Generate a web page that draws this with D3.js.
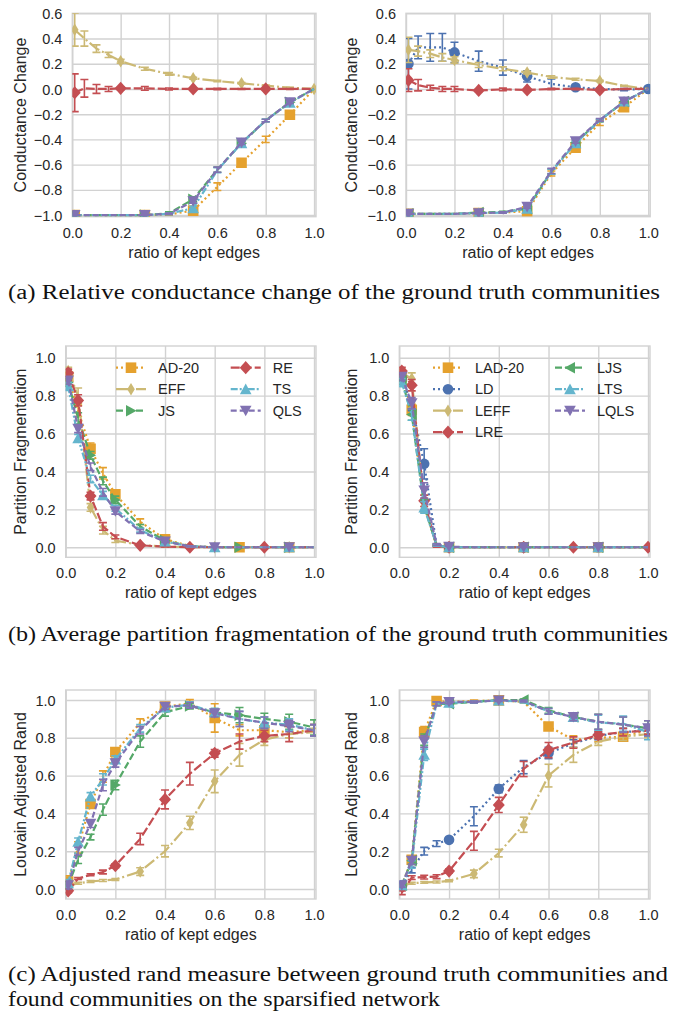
<!DOCTYPE html>
<html><head><meta charset="utf-8">
<script src="https://cdn.jsdelivr.net/npm/d3@7"></script>
<style>body{margin:0;background:#fff}svg{display:block}</style>
</head><body>
<script>
// ---------- shared x samples ----------
const X = [0.01, 0.05, 0.1, 0.15, 0.2, 0.3, 0.4, 0.5, 0.6, 0.7, 0.8, 0.9, 1.0];
const xTicks = [0, 0.2, 0.4, 0.6, 0.8, 1.0];
const yTicksA = [-1.0, -0.8, -0.6, -0.4, -0.2, 0.0, 0.2, 0.4, 0.6];
const yTicksBC = [0.0, 0.2, 0.4, 0.6, 0.8, 1.0];
const legendLeft = [["AD-20", "EFF", "JS"], ["RE", "TS", "QLS"]];
const legendRight = [["LAD-20", "LD", "LEFF", "LRE"], ["LJS", "LTS", "LQLS"]];
const captions = ["(a) Relative conductance change of the ground truth communities",
  "(b) Average partition fragmentation of the ground truth communities",
  "(c) Adjusted rand measure between ground truth communities and",
  "found communities on the sparsified network"];

// ---------- (a) left: conductance change ----------
const aL_AD20 = [-1, -1, -1, -1, -1, -1, -0.995, -0.965, -0.775, -0.585, -0.40, -0.205, 0];
const aL_AD20_err = [0, 0, 0, 0, 0, 0, 0.005, 0.01, 0.03, 0.02, 0.025, 0.01, 0];
const aL_AD20_mk = [0, 5, 7, 9, 11];
const aL_EFF = [0.47, 0.40, 0.32, 0.27, 0.22, 0.16, 0.12, 0.085, 0.063, 0.045, 0.027, 0.01, 0];
const aL_EFF_err = [0.13, 0.06, 0.03, 0.02, 0.015, 0.012, 0.01, 0.008, 0.006, 0.005, 0.004, 0.003, 0];
const aL_EFF_mk = [0, 4, 7, 9, 12];
const aL_JS = [-1, -1, -1, -1, -1, -1, -0.985, -0.875, -0.64, -0.43, -0.25, -0.105, 0];
const aL_JS_err = [0, 0, 0, 0, 0, 0, 0.01, 0.02, 0.02, 0.015, 0.01, 0.01, 0];
const aL_JS_mk = [0, 5, 7, 9, 11];
const aL_RE = [-0.03, 0.005, 0.0, 0.0, 0.005, 0.005, 0.0, 0.0, 0.0, 0.0, 0.0, 0.0, 0.0];
const aL_RE_err = [0.15, 0.07, 0.035, 0.02, 0.01, 0.015, 0.008, 0.005, 0.005, 0.004, 0.003, 0.003, 0];
const aL_RE_mk = [0, 4, 7, 10];
const aL_TS = [-1, -1, -1, -1, -1, -1, -0.99, -0.945, -0.645, -0.43, -0.25, -0.11, 0];
const aL_TS_err = [0, 0, 0, 0, 0, 0, 0.005, 0.015, 0.02, 0.015, 0.01, 0.01, 0];
const aL_TS_mk = [0, 5, 7, 9, 11];
const aL_QLS = [-1, -1, -1, -1, -1, -1, -0.99, -0.89, -0.64, -0.425, -0.25, -0.105, 0];
const aL_QLS_err = [0, 0, 0, 0, 0, 0, 0.005, 0.015, 0.02, 0.015, 0.01, 0.01, 0];
const aL_QLS_mk = [0, 5, 7, 9, 11];

// ---------- (a) right ----------
const aR_LAD20 = [-0.99, -0.99, -0.99, -0.99, -0.99, -0.985, -0.98, -0.97, -0.67, -0.465, -0.27, -0.145, 0];
const aR_LAD20_err = [0, 0, 0, 0, 0, 0.005, 0.005, 0.01, 0.02, 0.02, 0.02, 0.01, 0];
const aR_LAD20_mk = [0, 5, 7, 9, 11];
const aR_LD = [0.20, 0.33, 0.33, 0.33, 0.29, 0.22, 0.17, 0.10, 0.04, 0.013, 0.0, -0.005, 0.0];
const aR_LD_err = [0.2, 0.09, 0.11, 0.11, 0.08, 0.08, 0.06, 0.045, 0.04, 0.015, 0.008, 0.008, 0];
const aR_LD_mk = [0, 4, 7, 9, 12];
const aR_LEFF = [0.31, 0.30, 0.28, 0.25, 0.23, 0.19, 0.16, 0.13, 0.095, 0.077, 0.063, 0.025, 0];
const aR_LEFF_err = [0.1, 0.04, 0.03, 0.03, 0.025, 0.02, 0.015, 0.01, 0.01, 0.008, 0.006, 0.004, 0];
const aR_LEFF_mk = [0, 4, 7, 10];
const aR_LRE = [0.07, 0.03, 0.01, 0.0, 0.0, -0.012, -0.003, -0.008, 0.0, 0.0, -0.008, 0.0, 0.0];
const aR_LRE_err = [0.09, 0.045, 0.02, 0.02, 0.02, 0.01, 0.01, 0.008, 0.005, 0.005, 0.005, 0.003, 0];
const aR_LRE_mk = [0, 5, 7, 10];
const aR_LJS = [-0.99, -0.99, -0.99, -0.99, -0.99, -0.98, -0.975, -0.95, -0.655, -0.425, -0.25, -0.10, 0];
const aR_LJS_err = [0, 0, 0, 0, 0, 0.005, 0.005, 0.01, 0.02, 0.015, 0.01, 0.01, 0];
const aR_LJS_mk = [0, 5, 7, 9, 11];
const aR_LTS = [-0.99, -0.99, -0.99, -0.99, -0.99, -0.985, -0.98, -0.95, -0.655, -0.43, -0.25, -0.10, 0];
const aR_LTS_err = [0, 0, 0, 0, 0, 0.005, 0.005, 0.01, 0.02, 0.015, 0.01, 0.01, 0];
const aR_LTS_mk = [0, 5, 7, 9, 11];
const aR_LQLS = [-0.99, -0.99, -0.99, -0.99, -0.99, -0.985, -0.98, -0.935, -0.65, -0.415, -0.245, -0.10, 0];
const aR_LQLS_err = [0, 0, 0, 0, 0, 0.005, 0.005, 0.01, 0.02, 0.015, 0.01, 0.01, 0];
const aR_LQLS_mk = [0, 5, 7, 9, 11];

// ---------- (b) left: partition fragmentation ----------
const bL_AD20 = [0.90, 0.72, 0.52, 0.39, 0.28, 0.135, 0.042, 0.007, 0, 0, 0, 0, 0];
const bL_AD20_err = [0.02, 0.03, 0.03, 0.03, 0.02, 0.015, 0.01, 0.003, 0, 0, 0, 0, 0];
const bL_AD20_mk = [0, 2, 4, 6, 9, 11];
const bL_EFF = [0.93, 0.80, 0.21, 0.09, 0.035, 0.012, 0.004, 0, 0, 0, 0, 0, 0];
const bL_EFF_err = [0.02, 0.04, 0.02, 0.02, 0.01, 0.005, 0.002, 0, 0, 0, 0, 0, 0];
const bL_EFF_mk = [0, 2, 5, 8, 11];
const bL_JS = [0.87, 0.68, 0.485, 0.35, 0.25, 0.11, 0.035, 0.005, 0, 0, 0, 0, 0];
const bL_JS_err = [0.02, 0.03, 0.02, 0.02, 0.02, 0.01, 0.005, 0.002, 0, 0, 0, 0, 0];
const bL_JS_mk = [0, 2, 4, 6, 9, 11];
const bL_RE = [0.92, 0.775, 0.27, 0.11, 0.055, 0.01, 0.003, 0, 0, 0, 0, 0, 0];
const bL_RE_err = [0.02, 0.03, 0.02, 0.02, 0.01, 0.005, 0.002, 0, 0, 0, 0, 0, 0];
const bL_RE_mk = [0, 1, 2, 5, 7, 10];
const bL_TS = [0.85, 0.575, 0.36, 0.275, 0.205, 0.09, 0.03, 0.005, 0, 0, 0, 0, 0];
const bL_TS_err = [0.02, 0.02, 0.02, 0.02, 0.015, 0.01, 0.005, 0.002, 0, 0, 0, 0, 0];
const bL_TS_mk = [0, 1, 3, 6, 8, 11];
const bL_QLS = [0.88, 0.625, 0.425, 0.29, 0.19, 0.083, 0.03, 0.005, 0, 0, 0, 0, 0];
const bL_QLS_err = [0.02, 0.02, 0.02, 0.02, 0.015, 0.01, 0.005, 0.002, 0, 0, 0, 0, 0];
const bL_QLS_mk = [0, 1, 4, 6, 8, 11];

// ---------- (b) right ----------
const bR_LAD20 = [0.90, 0.725, 0.22, 0.01, 0, 0, 0, 0, 0, 0, 0, 0, 0];
const bR_LAD20_err = [0.02, 0.03, 0.03, 0.005, 0, 0, 0, 0, 0, 0, 0, 0, 0];
const bR_LAD20_mk = [0, 1, 4, 7, 10];
const bR_LD = [0.90, 0.75, 0.44, 0.01, 0, 0, 0, 0, 0, 0, 0, 0, 0];
const bR_LD_err = [0.02, 0.03, 0.08, 0.005, 0, 0, 0, 0, 0, 0, 0, 0, 0];
const bR_LD_mk = [0, 2, 4, 7, 10];
const bR_LEFF = [0.92, 0.89, 0.215, 0.01, 0, 0, 0, 0, 0, 0, 0, 0, 0];
const bR_LEFF_err = [0.02, 0.03, 0.03, 0.005, 0, 0, 0, 0, 0, 0, 0, 0, 0];
const bR_LEFF_mk = [0, 1, 2, 4, 7, 10];
const bR_LRE = [0.93, 0.855, 0.245, 0.005, 0, 0, 0, 0, 0, 0, 0, 0, 0];
const bR_LRE_err = [0.02, 0.03, 0.03, 0.005, 0, 0, 0, 0, 0, 0, 0, 0, 0];
const bR_LRE_mk = [0, 1, 2, 4, 7, 9, 12];
const bR_LJS = [0.88, 0.70, 0.22, 0.01, 0, 0, 0, 0, 0, 0, 0, 0, 0];
const bR_LJS_err = [0.02, 0.03, 0.03, 0.005, 0, 0, 0, 0, 0, 0, 0, 0, 0];
const bR_LJS_mk = [0, 1, 4, 7, 10];
const bR_LTS = [0.87, 0.70, 0.21, 0.01, 0, 0, 0, 0, 0, 0, 0, 0, 0];
const bR_LTS_err = [0.02, 0.03, 0.03, 0.005, 0, 0, 0, 0, 0, 0, 0, 0, 0];
const bR_LTS_mk = [0, 2, 4, 7, 10];
const bR_LQLS = [0.90, 0.76, 0.30, 0.015, 0.003, 0, 0, 0, 0, 0, 0, 0, 0];
const bR_LQLS_err = [0.02, 0.03, 0.04, 0.005, 0, 0, 0, 0, 0, 0, 0, 0, 0];
const bR_LQLS_mk = [0, 1, 2, 4, 7, 10];

// ---------- (c) left: Louvain adjusted rand ----------
const cL_AD20 = [0.04, 0.22, 0.45, 0.595, 0.725, 0.88, 0.965, 0.982, 0.905, 0.84, 0.84, 0.83, 0.84];
const cL_AD20_err = [0.03, 0.03, 0.02, 0.03, 0.02, 0.02, 0.015, 0.02, 0.075, 0.03, 0.03, 0.03, 0.03];
const cL_AD20_mk = [0, 2, 4, 6, 8, 10];
const cL_EFF = [0.015, 0.03, 0.04, 0.045, 0.05, 0.092, 0.20, 0.35, 0.57, 0.71, 0.79, 0.82, 0.83];
const cL_EFF_err = [0.01, 0.005, 0.005, 0.005, 0.005, 0.02, 0.03, 0.035, 0.06, 0.06, 0.03, 0.02, 0.02];
const cL_EFF_mk = [0, 5, 7, 8, 10];
const cL_JS = [0.02, 0.155, 0.275, 0.42, 0.55, 0.78, 0.935, 0.968, 0.935, 0.92, 0.90, 0.885, 0.855];
const cL_JS_err = [0.02, 0.02, 0.015, 0.03, 0.025, 0.03, 0.02, 0.015, 0.02, 0.04, 0.03, 0.04, 0.04];
const cL_JS_mk = [0, 4, 7, 9, 11];
const cL_RE = [-0.01, 0.055, 0.075, 0.09, 0.123, 0.265, 0.474, 0.61, 0.718, 0.78, 0.81, 0.82, 0.84];
const cL_RE_err = [0.01, 0.005, 0.005, 0.01, 0.01, 0.03, 0.05, 0.06, 0.02, 0.04, 0.03, 0.04, 0.03];
const cL_RE_mk = [0, 4, 6, 8, 10];
const cL_TS = [0.03, 0.25, 0.49, 0.58, 0.685, 0.85, 0.96, 0.975, 0.935, 0.90, 0.88, 0.87, 0.84];
const cL_TS_err = [0.02, 0.02, 0.02, 0.03, 0.02, 0.02, 0.015, 0.015, 0.02, 0.04, 0.03, 0.03, 0.03];
const cL_TS_mk = [0, 1, 2, 4, 6, 8, 10];
const cL_QLS = [0.02, 0.20, 0.345, 0.55, 0.665, 0.84, 0.965, 0.972, 0.93, 0.90, 0.88, 0.862, 0.84];
const cL_QLS_err = [0.02, 0.02, 0.02, 0.03, 0.02, 0.02, 0.015, 0.015, 0.02, 0.04, 0.03, 0.03, 0.03];
const cL_QLS_mk = [0, 2, 4, 6, 8, 11];

// ---------- (c) right ----------
const cR_LAD20 = [0.02, 0.155, 0.83, 0.995, 0.99, 0.995, 0.998, 0.99, 0.86, 0.79, 0.80, 0.806, 0.84];
const cR_LAD20_err = [0.01, 0.02, 0.03, 0.01, 0.01, 0.005, 0.005, 0.005, 0.02, 0.02, 0.02, 0.02, 0.02];
const cR_LAD20_mk = [1, 2, 3, 6, 8, 11];
const cR_LD = [0.02, 0.10, 0.20, 0.24, 0.26, 0.385, 0.53, 0.645, 0.72, 0.77, 0.81, 0.83, 0.84];
const cR_LD_err = [0.01, 0.015, 0.02, 0.015, 0.01, 0.05, 0.02, 0.035, 0.03, 0.02, 0.02, 0.02, 0.02];
const cR_LD_mk = [0, 4, 6, 8];
const cR_LEFF = [0.02, 0.03, 0.035, 0.037, 0.043, 0.08, 0.19, 0.34, 0.60, 0.71, 0.78, 0.806, 0.82];
const cR_LEFF_err = [0.005, 0.005, 0.005, 0.005, 0.005, 0.02, 0.02, 0.04, 0.06, 0.04, 0.02, 0.02, 0.02];
const cR_LEFF_mk = [5, 7, 8];
const cR_LRE = [-0.02, 0.06, 0.063, 0.065, 0.095, 0.255, 0.445, 0.635, 0.735, 0.775, 0.815, 0.83, 0.838];
const cR_LRE_err = [0.01, 0.01, 0.01, 0.01, 0.01, 0.05, 0.04, 0.04, 0.04, 0.03, 0.02, 0.02, 0.02];
const cR_LRE_mk = [4, 6, 8, 10];
const cR_LJS = [0.02, 0.15, 0.79, 0.98, 0.98, 0.99, 1.0, 1.0, 0.945, 0.91, 0.885, 0.87, 0.85];
const cR_LJS_err = [0.01, 0.02, 0.03, 0.01, 0.01, 0.005, 0.005, 0.005, 0.015, 0.02, 0.04, 0.04, 0.04];
const cR_LJS_mk = [0, 1, 4, 7, 9];
const cR_LTS = [0.02, 0.13, 0.71, 0.98, 0.985, 0.99, 0.998, 0.99, 0.94, 0.91, 0.88, 0.875, 0.83];
const cR_LTS_err = [0.01, 0.02, 0.03, 0.01, 0.01, 0.005, 0.005, 0.005, 0.015, 0.02, 0.04, 0.04, 0.04];
const cR_LTS_mk = [0, 2, 4, 6, 9];
const cR_LQLS = [0.02, 0.15, 0.78, 0.98, 0.99, 0.99, 0.998, 0.995, 0.94, 0.91, 0.885, 0.87, 0.85];
const cR_LQLS_err = [0.01, 0.02, 0.03, 0.01, 0.01, 0.005, 0.005, 0.005, 0.015, 0.02, 0.04, 0.04, 0.04];
const cR_LQLS_mk = [0, 1, 2, 4, 6, 9, 12];

// ---------- styles ----------
const STY = {
  "AD-20": {c: "#E5A12E", dash: "2,3", m: "s"},
  "LAD-20": {c: "#E5A12E", dash: "2,3", m: "s"},
  "LD": {c: "#4C72B0", dash: "2,3", m: "o"},
  "EFF": {c: "#CCB974", dash: "12,3,2,3", m: "d"},
  "LEFF": {c: "#CCB974", dash: "12,3,2,3", m: "d"},
  "RE": {c: "#C44E52", dash: "9,3", m: "D"},
  "LRE": {c: "#C44E52", dash: "9,3", m: "D"},
  "JS": {c: "#55A868", dash: "7,3", m: ">"},
  "LJS": {c: "#55A868", dash: "7,3", m: "<"},
  "TS": {c: "#64B5CD", dash: "7,2,2,2,2,2", m: "^"},
  "LTS": {c: "#64B5CD", dash: "7,2,2,2,2,2", m: "^"},
  "QLS": {c: "#8172B2", dash: "6,3", m: "v"},
  "LQLS": {c: "#8172B2", dash: "6,3", m: "v"}
};
function markerPath(m) {
  switch (m) {
    case "s": return "M-5.3,-5.3H5.3V5.3H-5.3Z";
    case "o": return d3.symbol(d3.symbolCircle, Math.PI * 5.3 * 5.3)();
    case "D": return "M0,-6.6L6,0L0,6.6L-6,0Z";
    case "d": return "M0,-6.2L3.8,0L0,6.2L-3.8,0Z";
    case "^": return "M0,-5.6L5.8,5L-5.8,5Z";
    case "v": return "M0,5.6L5.8,-5L-5.8,-5Z";
    case ">": return "M5.6,0L-5,-5.8L-5,5.8Z";
    case "<": return "M-5.6,0L5,-5.8L5,5.8Z";
  }
}

const panels = [
  {x0: 72.3, x1: 316, y0: 13.3, y1: 216.7, yd: [-1.013, 0.6], yt: yTicksA, yl: "Conductance Change", lx: 25.5,
   s: [["AD-20", aL_AD20, aL_AD20_err, aL_AD20_mk], ["EFF", aL_EFF, aL_EFF_err, aL_EFF_mk], ["JS", aL_JS, aL_JS_err, aL_JS_mk],
       ["RE", aL_RE, aL_RE_err, aL_RE_mk], ["TS", aL_TS, aL_TS_err, aL_TS_mk], ["QLS", aL_QLS, aL_QLS_err, aL_QLS_mk]]},
  {x0: 406, x1: 650.2, y0: 13.3, y1: 216.7, yd: [-1.013, 0.6], yt: yTicksA, yl: "Conductance Change", lx: 357,
   s: [["LAD-20", aR_LAD20, aR_LAD20_err, aR_LAD20_mk], ["LD", aR_LD, aR_LD_err, aR_LD_mk], ["LEFF", aR_LEFF, aR_LEFF_err, aR_LEFF_mk],
       ["LRE", aR_LRE, aR_LRE_err, aR_LRE_mk], ["LJS", aR_LJS, aR_LJS_err, aR_LJS_mk], ["LTS", aR_LTS, aR_LTS_err, aR_LTS_mk], ["LQLS", aR_LQLS, aR_LQLS_err, aR_LQLS_mk]]},
  {x0: 65.7, x1: 316, y0: 346, y1: 557.3, yd: [-0.053, 1.062], yt: yTicksBC, yl: "Partition Fragmentation", lx: 25.5, leg: legendLeft, legX: [131, 245.7],
   s: [["AD-20", bL_AD20, bL_AD20_err, bL_AD20_mk], ["EFF", bL_EFF, bL_EFF_err, bL_EFF_mk], ["JS", bL_JS, bL_JS_err, bL_JS_mk],
       ["RE", bL_RE, bL_RE_err, bL_RE_mk], ["TS", bL_TS, bL_TS_err, bL_TS_mk], ["QLS", bL_QLS, bL_QLS_err, bL_QLS_mk]]},
  {x0: 399.3, x1: 650, y0: 346, y1: 557.3, yd: [-0.053, 1.062], yt: yTicksBC, yl: "Partition Fragmentation", lx: 357, leg: legendRight, legX: [448, 570],
   s: [["LAD-20", bR_LAD20, bR_LAD20_err, bR_LAD20_mk], ["LD", bR_LD, bR_LD_err, bR_LD_mk], ["LEFF", bR_LEFF, bR_LEFF_err, bR_LEFF_mk],
       ["LRE", bR_LRE, bR_LRE_err, bR_LRE_mk], ["LJS", bR_LJS, bR_LJS_err, bR_LJS_mk], ["LTS", bR_LTS, bR_LTS_err, bR_LTS_mk], ["LQLS", bR_LQLS, bR_LQLS_err, bR_LQLS_mk]]},
  {x0: 65.7, x1: 316, y0: 690, y1: 899, yd: [-0.053, 1.053], yt: yTicksBC, yl: "Louvain Adjusted Rand", lx: 25.5,
   s: [["AD-20", cL_AD20, cL_AD20_err, cL_AD20_mk], ["EFF", cL_EFF, cL_EFF_err, cL_EFF_mk], ["JS", cL_JS, cL_JS_err, cL_JS_mk],
       ["RE", cL_RE, cL_RE_err, cL_RE_mk], ["TS", cL_TS, cL_TS_err, cL_TS_mk], ["QLS", cL_QLS, cL_QLS_err, cL_QLS_mk]]},
  {x0: 399.3, x1: 650, y0: 690, y1: 899, yd: [-0.053, 1.053], yt: yTicksBC, yl: "Louvain Adjusted Rand", lx: 357,
   s: [["LAD-20", cR_LAD20, cR_LAD20_err, cR_LAD20_mk], ["LD", cR_LD, cR_LD_err, cR_LD_mk], ["LEFF", cR_LEFF, cR_LEFF_err, cR_LEFF_mk],
       ["LRE", cR_LRE, cR_LRE_err, cR_LRE_mk], ["LJS", cR_LJS, cR_LJS_err, cR_LJS_mk], ["LTS", cR_LTS, cR_LTS_err, cR_LTS_mk], ["LQLS", cR_LQLS, cR_LQLS_err, cR_LQLS_mk]]}
];

const W = 677, H = 1015;
const svg = d3.select("body").append("svg").attr("width", W).attr("height", H)
  .style("font-family", "'Liberation Sans', Arial, sans-serif");
svg.append("rect").attr("width", W).attr("height", H).attr("fill", "#fff");
const TXT = "#262626", GRID = "#d2d2d2";
const fmt = v => (v < 0 ? "\u2212" : "") + Math.abs(v).toFixed(1);

panels.forEach((p, pi) => {
  const x = d3.scaleLinear().domain([0, 1.008]).range([p.x0, p.x1]);
  const y = d3.scaleLinear().domain(p.yd).range([p.y1, p.y0]);
  const g = svg.append("g");
  const cid = "clip" + pi;
  svg.append("clipPath").attr("id", cid).append("rect")
    .attr("x", p.x0).attr("y", p.y0).attr("width", p.x1 - p.x0).attr("height", p.y1 - p.y0);

  // grid
  const xa = d3.axisBottom(x).tickValues(xTicks).tickSize(-(p.y1 - p.y0)).tickFormat(d3.format(".1f")).tickPadding(10);
  const gx = g.append("g").attr("transform", `translate(0,${p.y1})`).call(xa);
  gx.select(".domain").remove();
  gx.selectAll("line").attr("stroke", GRID).attr("stroke-width", 1.4);
  gx.selectAll("text").attr("fill", TXT).style("font-size", "14.5px").attr("y", 21).attr("dy", 0);
  const ya = d3.axisLeft(y).tickValues(p.yt).tickSize(-(p.x1 - p.x0)).tickFormat(fmt).tickPadding(10);
  const gy = g.append("g").attr("transform", `translate(${p.x0},0)`).call(ya);
  gy.select(".domain").remove();
  gy.selectAll("line").attr("stroke", GRID).attr("stroke-width", 1.4);
  gy.selectAll("text").attr("fill", TXT).style("font-size", "14.5px").attr("dy", "0.35em");
  g.append("rect").attr("x", p.x0).attr("y", p.y0).attr("width", p.x1 - p.x0).attr("height", p.y1 - p.y0)
    .attr("fill", "none").attr("stroke", GRID).attr("stroke-width", 1.4);

  // labels
  g.append("text").attr("x", (p.x0 + p.x1) / 2).attr("y", p.y1 + 41)
    .attr("text-anchor", "middle").attr("fill", TXT).style("font-size", "16px").text("ratio of kept edges");
  g.append("text").attr("transform", `translate(${p.lx},${(p.y0 + p.y1) / 2}) rotate(-90)`)
    .attr("text-anchor", "middle").attr("fill", TXT).style("font-size", "16px").text(p.yl);

  // series
  const plot = g.append("g").attr("clip-path", `url(#${cid})`);
  const line = d3.line().x(d => x(d[0])).y(d => y(d[1]));
  p.s.forEach(([name, vals, errs, mks]) => {
    const st = STY[name];
    const sg = plot.append("g");
    const pts = X.map((xv, i) => [xv, vals[i], errs[i]]);
    sg.append("path").datum(pts).attr("d", line).attr("fill", "none").attr("stroke", st.c)
      .attr("stroke-width", 2.2).attr("stroke-dasharray", st.dash);
    const eb = sg.append("g").attr("stroke", st.c).attr("stroke-width", 1.6);
    pts.filter(d => d[2] > 0).forEach(d => {
      const cx = x(d[0]), yt = y(d[1] + d[2]), yb = y(d[1] - d[2]);
      eb.append("line").attr("x1", cx).attr("x2", cx).attr("y1", yt).attr("y2", yb);
      eb.append("line").attr("x1", cx - 4).attr("x2", cx + 4).attr("y1", yt).attr("y2", yt);
      eb.append("line").attr("x1", cx - 4).attr("x2", cx + 4).attr("y1", yb).attr("y2", yb);
    });
    sg.selectAll("path.mk").data(mks.map(i => pts[i])).join("path").attr("class", "mk")
      .attr("d", markerPath(st.m)).attr("fill", st.c)
      .attr("transform", d => `translate(${x(d[0])},${y(d[1])})`);
  });

  // legend
  if (p.leg) {
    const rowY = [367.7, 389.2, 410.7, 432.2];
    p.leg.forEach((col, ci) => {
      col.forEach((name, ri) => {
        const st = STY[name];
        const cx = p.legX[ci], cy = rowY[ri];
        const lg = g.append("g");
        lg.append("line").attr("x1", cx - 15).attr("x2", cx + 15).attr("y1", cy).attr("y2", cy)
          .attr("stroke", st.c).attr("stroke-width", 2.2).attr("stroke-dasharray", st.dash);
        lg.append("path").attr("d", markerPath(st.m)).attr("fill", st.c).attr("transform", `translate(${cx},${cy})`);
        lg.append("text").attr("x", cx + 27).attr("y", cy).attr("dy", "0.35em").attr("fill", TXT)
          .style("font-size", "14.5px").text(name);
      });
    });
  }
});

// captions
const capY = [299, 641, 981, 1006];
const capW = [652, 660, 660, 432];
captions.forEach((t, i) => {
  svg.append("text").attr("x", 8).attr("y", capY[i]).attr("fill", "#111")
    .style("font-family", "'Liberation Serif', 'DejaVu Serif', serif").style("font-size", "20.5px")
    .attr("textLength", capW[i]).attr("lengthAdjust", "spacingAndGlyphs").text(t);
});
</script>
</body></html>
